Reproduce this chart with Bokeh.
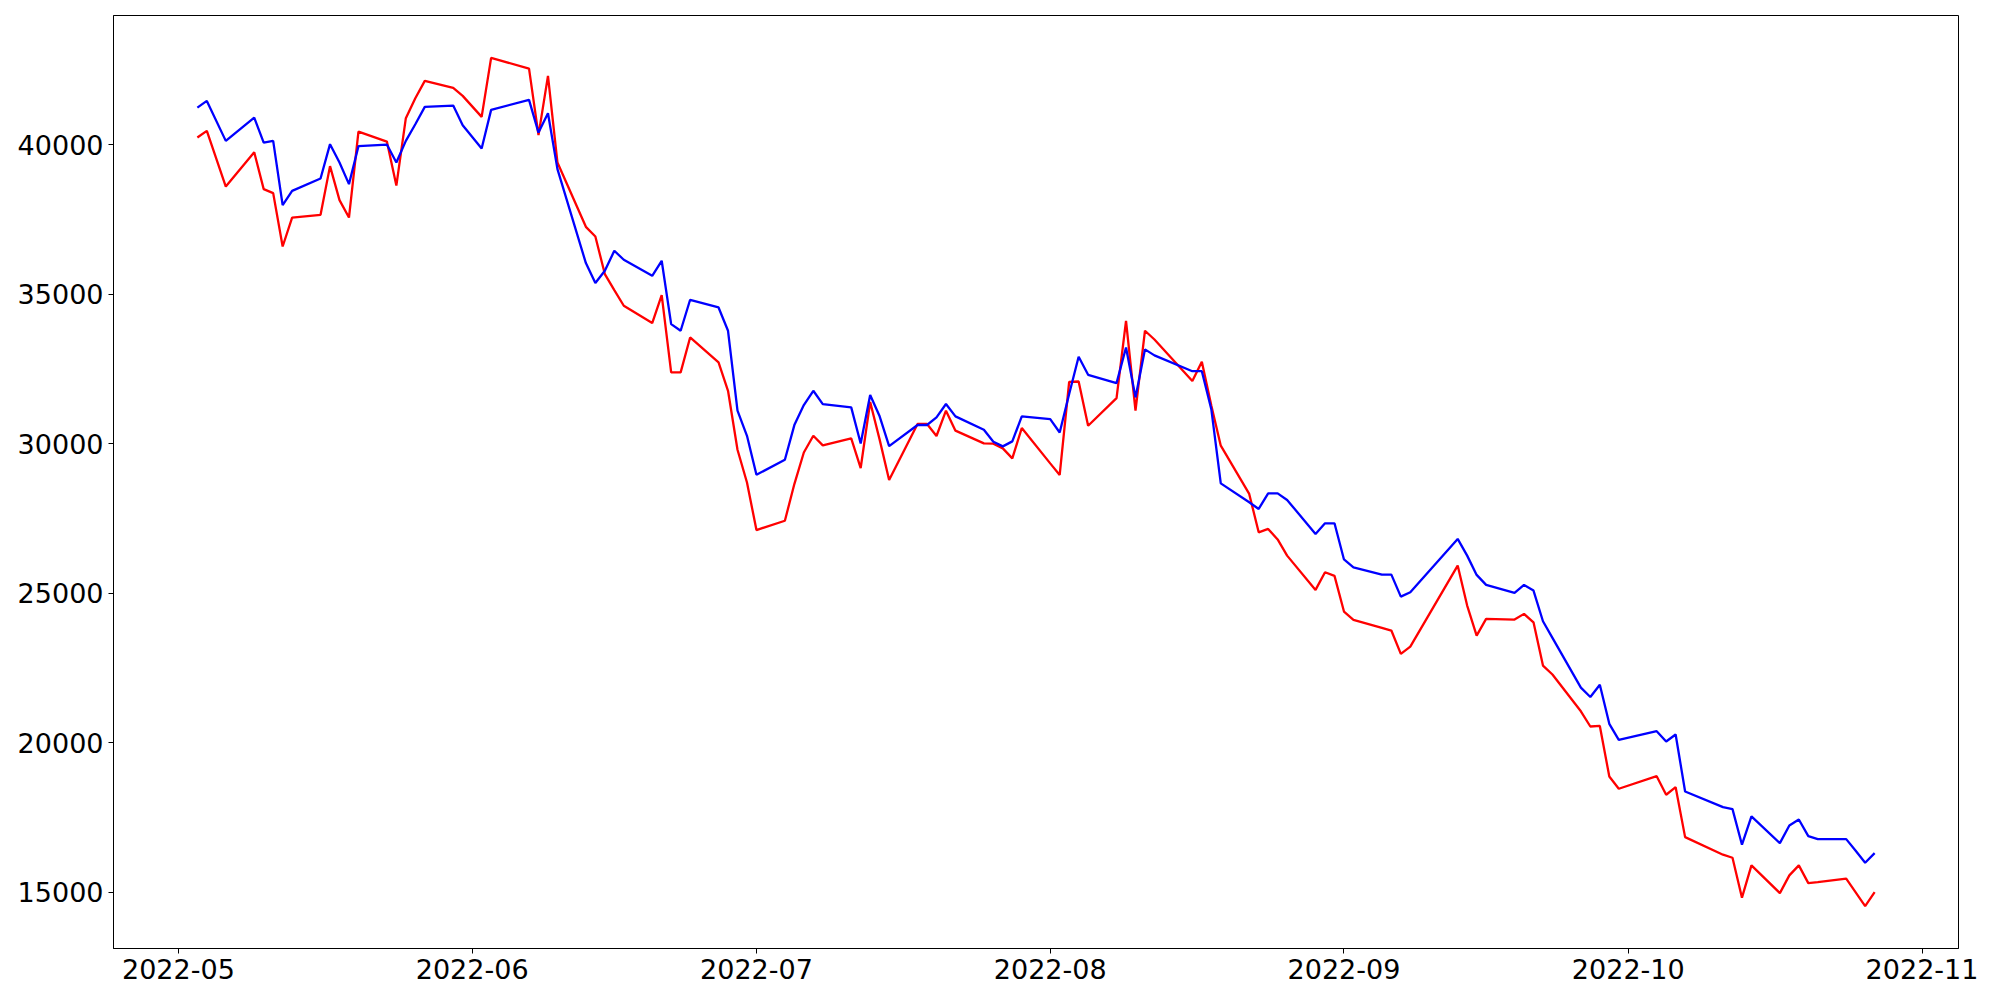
import pandas as pd
from bokeh.plotting import figure
from bokeh.models import Range1d, FixedTicker, DatetimeTickFormatter
from bokeh.embed import file_html
from bokeh.resources import INLINE

# Trading days (KRX calendar), by month
may_days = [3, 4, 6, 9, 10, 11, 12, 13, 16, 17, 18, 19, 20, 23, 24, 25, 26, 27, 30, 31]
jun_days = [2, 3, 7, 8, 9, 10, 13, 14, 15, 16, 17, 20, 21, 22, 23, 24, 27, 28, 29, 30]
jul_days = [1, 4, 5, 6, 7, 8, 11, 12, 13, 14, 15, 18, 19, 20, 21, 22, 25, 26, 27, 28, 29]
aug_days = [1, 2, 3, 4, 5, 8, 9, 10, 11, 12, 16, 17, 18, 19, 22, 23, 24, 25, 26, 29, 30, 31]
sep_days = [1, 2, 5, 6, 7, 8, 13, 14, 15, 16, 19, 20, 21, 22, 23, 26, 27, 28, 29, 30]
oct_days = [4, 5, 6, 7, 11, 12, 13, 14, 17, 18, 19, 20, 21, 24, 25, 26, 27]

blue_may = [41250, 41475, 40137, 40917, 40080, 40137, 37987, 38465, 38876, 40027,
            39412, 38689, 39960, 40013, 39412, 40137, 40695, 41274, 41318, 40662]
blue_jun = [39880, 41174, 41508, 40415, 41063, 39191, 36047, 35379, 35790, 36459,
            36158, 35623, 36125, 34007, 33783, 34820, 34563, 33783, 31108, 30269]
blue_jul = [28965, 29467, 30627, 31296, 31775, 31330, 31219, 30012, 31633, 30920,
            29925, 30630, 30630, 30884, 31332, 30918, 30473, 30072, 29915, 30082, 30918]
blue_aug = [30828, 30380, 31664, 32912, 32310, 32032, 33223, 31553, 33160, 32960,
            32430, 32430, 31160, 28677, 28045, 27821, 28343, 28343, 28122, 26985, 27340, 27340]
blue_sep = [26130, 25868, 25624, 25624, 24888, 25032, 26818, 26259, 25614, 25280,
            25012, 25280, 25089, 24063, 23507, 21840, 21530, 21936, 20631, 20096]
blue_oct = [20384, 20040, 20274, 18368, 17843, 17776, 16585, 17532, 16639, 17231,
            17431, 16873, 16773, 16773, 16385, 15983, 16304]

red_may = [40248, 40471, 38609, 39759, 38522, 38388, 36603, 37572, 37663, 39291,
           38154, 37572, 40448, 40114, 38642, 40896, 41565, 42143, 41909, 41642]
red_jun = [40940, 42913, 42555, 40328, 42311, 39412, 37261, 36937, 35680, 35144,
           34620, 34040, 34976, 32389, 32389, 33560, 32724, 31775, 29801, 28707]
red_jul = [27115, 27426, 28654, 29711, 30269, 29950, 30180, 29190, 31400, 30140,
           28790, 30664, 30664, 30262, 31108, 30440, 30015, 30004, 29848, 29513, 30530]
red_aug = [29346, 28958, 32076, 32086, 30605, 31530, 34116, 31108, 33784, 33490,
           32100, 32746, 31280, 29938, 28323, 27039, 27152, 26800, 26259, 25112, 25701, 25580]
red_sep = [24387, 24109, 23842, 23752, 22973, 23216, 25925, 24588, 23584, 24143,
           24119, 24310, 24029, 22581, 22280, 21050, 20541, 20560, 18869, 18458]
red_oct = [18879, 18257, 18511, 16839, 16251, 16150, 14813, 15893, 14967, 15559,
           15893, 15301, 15335, 15448, 14990, 14532, 15000]

x_tick_labels = ["2022-05", "2022-06", "2022-07", "2022-08", "2022-09", "2022-10", "2022-11"]
y_tick_values = [15000, 20000, 25000, 30000, 35000, 40000]

months = [(5, may_days), (6, jun_days), (7, jul_days), (8, aug_days), (9, sep_days), (10, oct_days)]
dates = [pd.Timestamp(2022, m, d) for m, days in months for d in days]
blue = blue_may + blue_jun + blue_jul + blue_aug + blue_sep + blue_oct
red = red_may + red_jun + red_jul + red_aug + red_sep + red_oct

# matplotlib-like 5% margins
span = dates[-1] - dates[0]
x_start = dates[0] - span * 0.05
x_end = dates[-1] + span * 0.05
all_vals = blue + red
vmin, vmax = min(all_vals), max(all_vals)
vspan = vmax - vmin

p = figure(
    frame_width=1845, frame_height=933,
    x_axis_type="datetime",
    x_range=Range1d(x_start, x_end),
    y_range=Range1d(vmin - 0.05 * vspan, vmax + 0.05 * vspan),
    output_backend="svg", toolbar_location=None,
    min_border_left=113, min_border_right=34, min_border_top=15, min_border_bottom=44,
)
p.background_fill_color = "white"
p.border_fill_color = "white"
p.grid.visible = False
p.outline_line_color = "black"
p.outline_line_width = 1
p.outline_line_alpha = 1

p.line(dates, red, line_color="red", line_width=2.3)
p.line(dates, blue, line_color="blue", line_width=2.3)

tick_ms = [pd.Timestamp(s + "-01").value // 10**6 for s in x_tick_labels]
p.xaxis.ticker = FixedTicker(ticks=tick_ms)
fmt = "%Y-%m"
p.xaxis.formatter = DatetimeTickFormatter(
    microseconds=fmt, milliseconds=fmt, seconds=fmt, minsec=fmt, minutes=fmt,
    hourmin=fmt, hours=fmt, days=fmt, months=fmt, years=fmt,
)
p.yaxis.ticker = FixedTicker(ticks=y_tick_values)

for ax in p.axis:
    ax.axis_line_color = "black"
    ax.axis_line_width = 1
    ax.major_tick_line_color = "black"
    ax.major_tick_line_width = 1
    ax.major_tick_out = 5
    ax.major_tick_in = 0
    ax.minor_tick_out = 0
    ax.minor_tick_in = 0
    ax.major_label_text_font = "DejaVu Sans"
    ax.major_label_text_font_size = "27px"
    ax.major_label_text_color = "black"
    ax.major_label_standoff = 5

open("out.html", "w").write(file_html(p, INLINE))
